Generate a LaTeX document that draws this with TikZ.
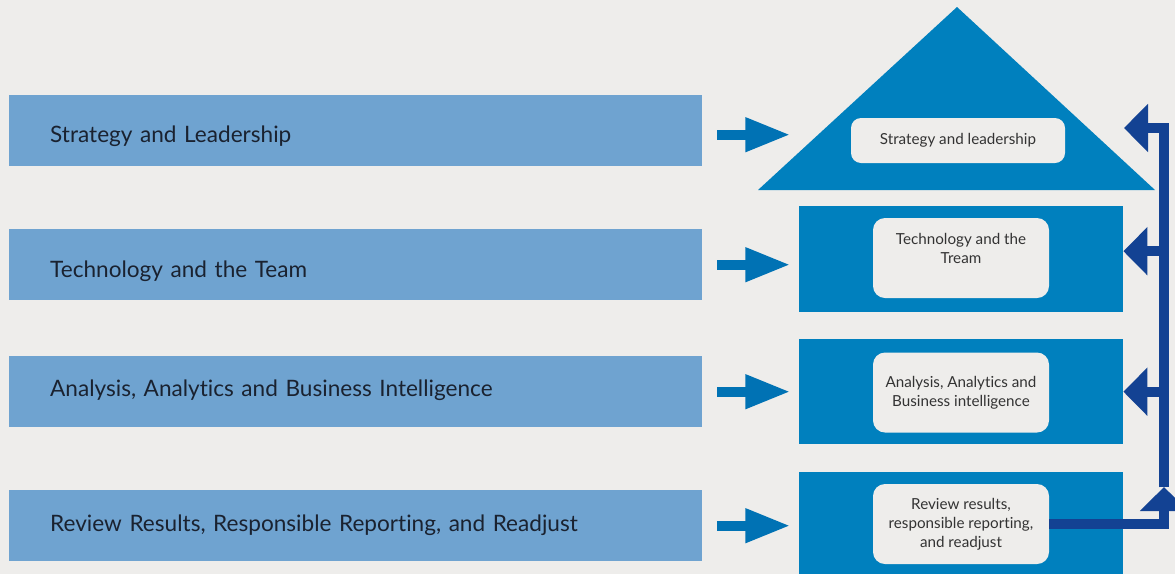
\documentclass[tikz,border=0pt]{standalone}
\usepackage{fontspec}
\setmainfont{Lato}[Ligatures={NoCommon}]
\usetikzlibrary{arrows.meta, positioning, calc}
\definecolor{pagebg}{RGB}{238,237,235}
\definecolor{barblue}{RGB}{111,163,208}
\definecolor{popblue}{RGB}{0,128,190}
\definecolor{arrowblue}{RGB}{0,114,180}
\definecolor{navy}{RGB}{19,66,147}
\definecolor{inkdark}{RGB}{26,34,48}
\definecolor{inkgrey}{RGB}{51,51,51}

\begin{document}
\begin{tikzpicture}[x=1pt, y=-1pt,
  bar/.style={fill=barblue, anchor=north west, minimum height=71pt, text width=611pt, text height=24pt, text depth=0pt, inner xsep=41pt, inner ysep=0pt, align=left, font=\fontsize{22.6}{27}\selectfont, text=inkdark},
  bbox/.style={fill=popblue, anchor=north west, minimum width=324pt, minimum height=106pt, inner sep=0pt},
  wbox/.style={fill=pagebg, rounded corners=12pt, minimum width=176pt, minimum height=80pt, inner sep=0pt, align=center, font=\fontsize{15.2}{19}\selectfont, text=inkgrey},
  flow/.style={draw=arrowblue, line width=10pt, -{Triangle[width=32pt, length=45pt]}},
  back/.style={draw=navy, line width=10pt, -{Triangle[width=47pt, length=24pt]}}
]
  \useasboundingbox (0,0) rectangle (1175,574);
  \fill[pagebg] (0,0) rectangle (1175,574);

  % left column
  \node[bar, text height=23pt] (s1) at (9,95) {Strategy and Leadership};
  \node[bar, text height=25pt] (s2) at (9,229) {Technology and the Team};
  \node[bar, text height=9pt] (s3) at (9,356) {Analysis, Analytics and Business Intelligence};
  \node[bar, text height=11pt] (s4) at (9,490) {Review Results, Responsible Reporting, and Readjust};

  % roof and blocks
  \fill[popblue] (758,190) -- (957,7) -- (1155,190) -- cycle;
  \node[wbox, minimum width=214pt, minimum height=45pt, rounded corners=10pt] (slw) at (958,140.5) {Strategy and leadership};

  \node[bbox] (tech) at (799,206) {};
  \node[bbox, minimum height=105pt] (ana) at (799,339) {};
  \node[bbox, minimum height=102pt] (rev) at (799,472) {};

  \node[wbox] (techw) at (961,258) {Technology and the\\Tream\\\mbox{}};
  \node[wbox] (anaw) at (961,392.5) {Analysis, Analytics and\\Business intelligence};
  \node[wbox] (revw) at (961,524) {Review results,\\responsible reporting,\\and readjust};

  % arrows across
  \draw[flow] ([xshift=15pt, yshift=-4pt]s1.east) -- ++(73,0);
  \draw[flow] ([xshift=15pt]s2.east) -- ++(73,0);
  \draw[flow] ([xshift=15pt]s3.east) -- ++(73,0);
  \draw[flow] ([xshift=15pt]s4.east) -- ++(73,0);

  % feedback loop
  \coordinate (up) at (1164,487);
  \coordinate (top) at (1124,128);
  \draw[back] (revw.east) -| (up);
  \draw[back] (up) |- (ana.east);
  \draw[back] (up) |- ([yshift=8pt]tech.east);
  \draw[back] (up) |- (top);
\end{tikzpicture}
\end{document}
